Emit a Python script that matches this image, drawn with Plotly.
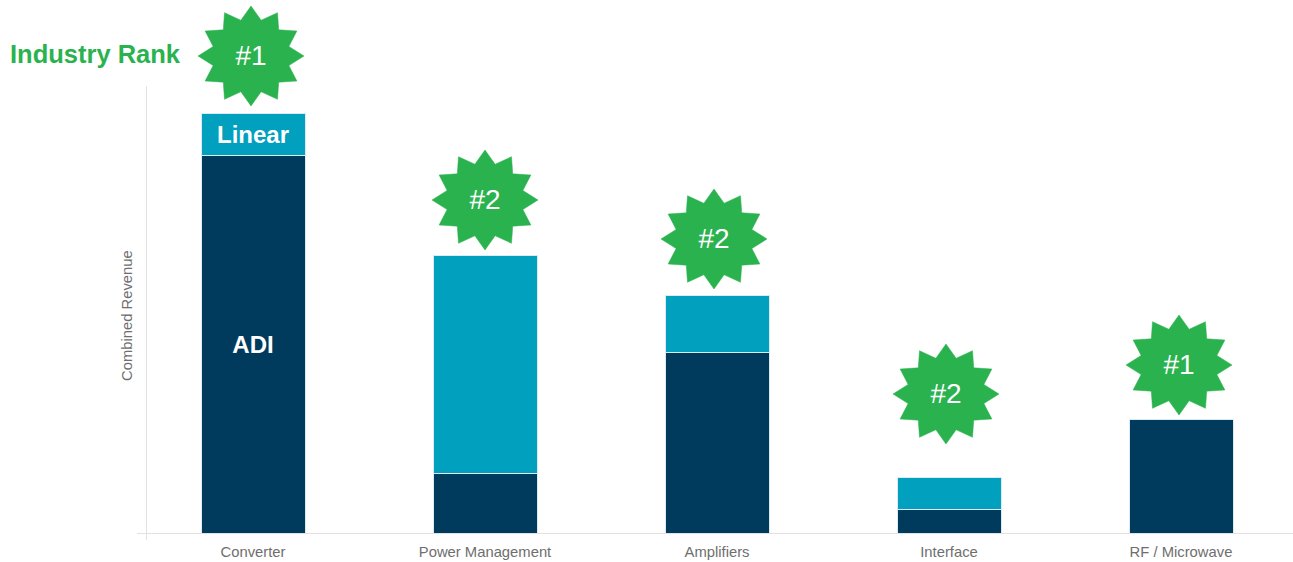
import math
import plotly.graph_objects as go

# Revenue by product line, in index units
categories = ["Converter", "Power Management", "Amplifiers", "Interface", "RF / Microwave"]
adi_revenue = [378, 60, 181, 24, 114]
linear_revenue = [42, 218, 57, 32, 0]
industry_rank = ["#1", "#2", "#2", "#2", "#1"]
star_lift = [57, 55, 56, 83, 54]
star_shift = [-2, 0, -3, -3, -2]

WIDTH, HEIGHT = 1293, 562
BASE_PX = 533
TOP_PX = 86
LEFT_PX = 137
AXIS_PX = 146
BAND_PX = 232
NAVY = "#003A5D"
TEAL = "#00A0BE"
GREEN = "#2AB24F"
GRAY = "#6E6E6E"
FONT = "Liberation Sans"
STAR_POINTS = 12
STAR_RX, STAR_RY = 53, 50
STAR_INNER = 0.74
RANK_TEXT_DROP = 2

fig = go.Figure()

# Stacked revenue bars with their segment captions
fig.add_bar(
    x=list(range(len(categories))), y=adi_revenue, width=104 / BAND_PX,
    marker=dict(color=NAVY, line=dict(color="#DCEBF1", width=1)),
    text=["ADI"] + [""] * 4, textposition="inside", insidetextanchor="middle", textangle=0,
    insidetextfont=dict(family=FONT, size=24, color="white", weight="bold"),
    hoverinfo="skip",
)
fig.add_bar(
    x=list(range(len(categories))), y=linear_revenue, width=104 / BAND_PX,
    marker=dict(color=TEAL, line=dict(color="#DCEBF1", width=1)),
    text=["Linear"] + [""] * 4, textposition="inside", insidetextanchor="middle", textangle=0,
    insidetextfont=dict(family=FONT, size=24, color="white", weight="bold"),
    hoverinfo="skip",
)


def star_outline(cx, cy):
    """Closed 12-point star around a centre given in x units and y2 pixels."""
    xs, ys = [], []
    for k in range(2 * STAR_POINTS + 1):
        angle = math.pi * k / STAR_POINTS
        scale = 1 if k % 2 == 0 else STAR_INNER
        xs.append(cx + STAR_RX * scale * math.sin(angle) / BAND_PX)
        ys.append(cy + STAR_RY * scale * math.cos(angle))
    return xs, ys


# Rank badges float above each stack, on a second axis spanning the full height
centres_x, centres_y = [], []
for i, rank in enumerate(industry_rank):
    total = adi_revenue[i] + linear_revenue[i]
    cx = i + star_shift[i] / BAND_PX
    cy = total + star_lift[i]
    centres_x.append(cx)
    centres_y.append(cy - RANK_TEXT_DROP)
    xs, ys = star_outline(cx, cy)
    fig.add_scatter(
        x=xs, y=ys, yaxis="y2", mode="lines", fill="toself", fillcolor=GREEN,
        line=dict(color=GREEN, width=0.5), hoverinfo="skip",
    )
fig.add_scatter(
    x=centres_x, y=centres_y, yaxis="y2", mode="text", text=industry_rank,
    textposition="middle center",
    textfont=dict(family=FONT, size=28, color="white"), hoverinfo="skip",
)

fig.update_layout(
    width=WIDTH, height=HEIGHT,
    barmode="stack", showlegend=False,
    margin=dict(l=0, r=0, t=0, b=0),
    paper_bgcolor="white", plot_bgcolor="rgba(0,0,0,0)",
    font=dict(family=FONT, color=GRAY),
    xaxis=dict(
        domain=[LEFT_PX / WIDTH, 1],
        range=[-0.5, -0.5 + (WIDTH - LEFT_PX) / BAND_PX],
        tickmode="array", tickvals=list(range(len(categories))), ticktext=categories,
        tickfont=dict(size=14.8, color=GRAY), ticklabelstandoff=5,
        showline=True, linecolor="#E2E2E2", linewidth=1,
        showgrid=False, zeroline=False, ticks="",
        # Short stub where the value axis crosses the baseline
        minor=dict(
            tickmode="array", tickvals=[-0.5 + (AXIS_PX - LEFT_PX) / BAND_PX],
            ticks="outside", ticklen=6, tickwidth=1, tickcolor="#E2E2E2", showgrid=False,
        ),
        anchor="y",
    ),
    yaxis=dict(
        domain=[(HEIGHT - BASE_PX) / HEIGHT, (HEIGHT - TOP_PX) / HEIGHT],
        range=[0, BASE_PX - TOP_PX],
        anchor="free", position=(AXIS_PX - 0.5) / WIDTH,
        showline=True, linecolor="#E2E2E2", linewidth=1,
        showgrid=False, zeroline=False, showticklabels=False, ticks="",
        title=None,
    ),
    yaxis2=dict(
        domain=[(HEIGHT - BASE_PX) / HEIGHT, 1],
        range=[0, BASE_PX], visible=False,
        anchor="x",
    ),
    annotations=[
        dict(text="Industry Rank", x=8 / WIDTH, y=1 - 54 / HEIGHT, xref="paper", yref="paper",
             xanchor="left", yanchor="middle", showarrow=False,
             font=dict(family=FONT, size=25.5, color=GREEN, weight="bold")),
        dict(text="Combined Revenue", x=127 / WIDTH, y=1 - 316 / HEIGHT, xref="paper", yref="paper",
             xanchor="center", yanchor="middle", textangle=-90, showarrow=False,
             font=dict(family=FONT, size=14.8, color=GRAY)),
    ],
)

fig.write_html("out.html")
